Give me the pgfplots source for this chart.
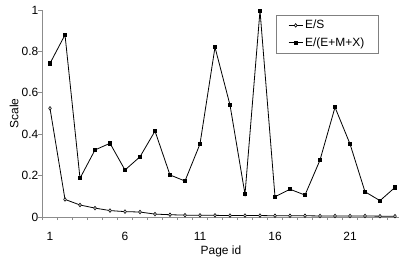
\documentclass[border=0pt]{standalone}
\usepackage{pgfplots}
\pgfplotsset{compat=1.18}
\usepackage{fontspec}
\setmainfont{Liberation Sans}
\begin{document}
\fontsize{12}{14}\selectfont
\begin{tikzpicture}
\begin{axis}[
  scale only axis,
  width=357bp, height=207bp,
  xmin=0.5, xmax=24.3, ymin=0, ymax=1,
  axis x line=bottom, axis y line=left,
  axis line style={-, draw=black!45, line width=0.8bp},
  xtick={1,6,11,16,21},
  minor xtick={0.5,1.5,...,23.5},
  ytick={0,0.2,0.4,0.6,0.8,1},
  yticklabels={0,0.2,0.4,0.6,0.8,1},
  tick align=outside,
  major x tick style={draw=none},
  minor tick length=3bp,
  major tick length=4bp,
  tick style={draw=black!45, line width=0.8bp},
  /pgf/number format/assume math mode=true,
  ticklabel style={font=\fontsize{12}{14}\selectfont},
  xticklabel style={yshift=-7bp},
  yticklabel style={xshift=4bp},
  xlabel={Page id}, ylabel={Scale},
  label style={font=\fontsize{12}{14}\selectfont},
  xlabel style={yshift=3bp},
  ylabel style={yshift=-5bp},
  legend style={at={(1,1)}, anchor=north east, xshift=-21bp, yshift=-5bp,
    draw=black!50, font=\fontsize{12}{14}\selectfont, inner xsep=12bp, inner ysep=3bp,
    row sep=3bp},
  legend cell align=left,
  legend image code/.code={\draw[mark repeat=2,mark phase=2] plot coordinates {(0cm,0cm) (0.25cm,0cm) (0.5cm,0cm)};},
]
\addplot[black, line width=0.8bp, mark=diamond*, mark size=1.8bp, mark options={fill=white, line width=0.6bp}] coordinates {
(1,0.525) (2,0.085) (3,0.058) (4,0.043) (5,0.031) (6,0.026) (7,0.024) (8,0.014)
(9,0.011) (10,0.009) (11,0.008) (12,0.008) (13,0.007) (14,0.007) (15,0.007) (16,0.006)
(17,0.006) (18,0.006) (19,0.005) (20,0.005) (21,0.005) (22,0.005) (23,0.004) (24,0.004)};
\addlegendentry{E/S}
\addplot[black, line width=0.8bp, mark=square*, mark size=1.6bp] coordinates {
(1,0.742) (2,0.88) (3,0.187) (4,0.324) (5,0.356) (6,0.227) (7,0.291) (8,0.415)
(9,0.203) (10,0.174) (11,0.353) (12,0.82) (13,0.541) (14,0.11) (15,0.997) (16,0.098)
(17,0.134) (18,0.106) (19,0.275) (20,0.53) (21,0.353) (22,0.122) (23,0.079) (24,0.143)};
\addlegendentry{E/(E+M+X)}
\end{axis}
\pgfresetboundingbox
\path[use as bounding box] ([xshift=-42.5bp,yshift=-44bp]current axis.south west) rectangle ([xshift=-0.5bp,yshift=10bp]current axis.north east);
\end{tikzpicture}
\end{document}
